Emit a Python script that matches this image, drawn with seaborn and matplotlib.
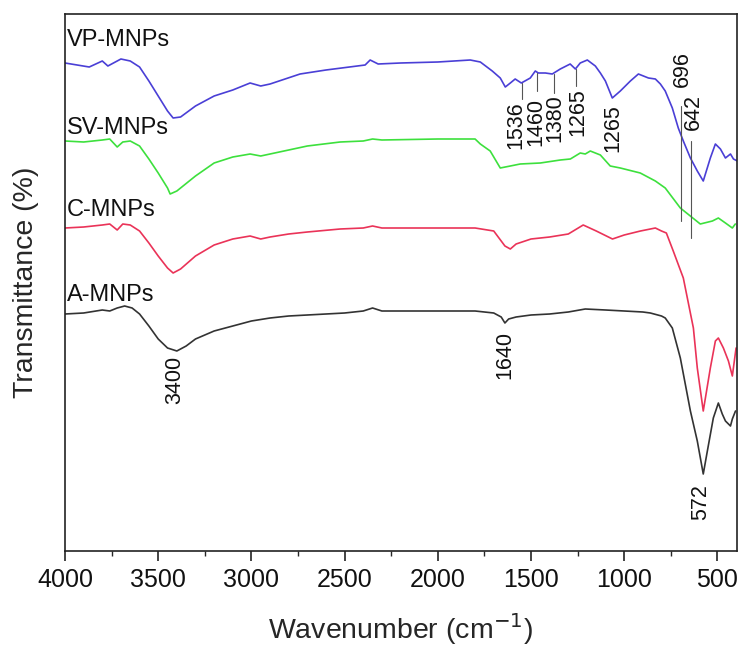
import numpy as np
import pandas as pd
import matplotlib
matplotlib.use("Agg")
import matplotlib.pyplot as plt
import seaborn as sns

# ---------------- data (arbitrary units) ----------------
a_wn = [4000, 3900, 3800, 3760, 3720, 3680, 3640, 3600, 3550, 3500, 3450, 3400, 3350, 3300,
        3200, 3100, 3000, 2900, 2800, 2700, 2600, 2500, 2400, 2350, 2300, 2200, 2000, 1800,
        1700, 1660, 1640, 1620, 1580, 1500, 1400, 1300, 1209, 1100, 1000, 900, 860, 800, 780,
        742, 699, 645, 608, 576, 554, 522, 495, 474, 457, 430, 420, 403]
a_t = [237, 238, 241, 240, 243, 245, 243, 237, 225, 212, 203, 200, 205, 212,
       220, 225, 230, 233, 235, 236, 237, 238, 240, 243, 240, 240, 240, 240,
       238, 234, 228, 232, 234, 236, 237, 239, 242, 241, 240, 239, 238, 235, 233,
       223, 193, 140, 110, 77, 100, 133, 148, 137, 130, 125, 132, 140]

c_wn = [4000, 3900, 3800, 3760, 3720, 3690, 3650, 3600, 3550, 3500, 3450, 3420, 3380, 3300,
        3200, 3100, 3007, 2950, 2900, 2800, 2700, 2524, 2400, 2350, 2300, 2000, 1800, 1700,
        1660, 1640, 1611, 1580, 1500, 1400, 1300, 1220, 1150, 1063, 1000, 913, 833, 800, 774,
        737, 683, 629, 608, 576, 538, 511, 495, 468, 441, 420, 400]
c_t = [323, 324, 326, 327, 321, 327, 326, 320, 308, 295, 283, 278, 282, 295,
       306, 312, 315, 312, 314, 317, 319, 322, 323, 325, 323, 323, 323, 320,
       310, 305, 302, 307, 312, 314, 317, 326, 320, 312, 316, 320, 323, 320, 318,
       300, 273, 223, 183, 140, 183, 210, 213, 203, 190, 175, 203]

sv_wn = [4000, 3900, 3800, 3760, 3720, 3690, 3650, 3600, 3550, 3500, 3450, 3436, 3400, 3300,
         3200, 3100, 3007, 2950, 2900, 2800, 2700, 2524, 2400, 2350, 2300, 2000, 1800, 1772,
         1719, 1665, 1611, 1558, 1450, 1343, 1289, 1236, 1209, 1182, 1128, 1075, 1021, 914,
         833, 780, 699, 592, 527, 495, 457, 420, 404]
sv_t = [410, 409, 411, 412, 404, 409, 410, 405, 392, 378, 363, 357, 360, 375,
        388, 394, 397, 395, 397, 401, 405, 409, 410, 412, 411, 412, 412, 407,
        400, 383, 385, 387, 388, 391, 392, 398, 397, 400, 396, 385, 383, 378,
        370, 363, 343, 327, 330, 333, 328, 323, 327]

vp_wn = [4000, 3870, 3800, 3770, 3700, 3650, 3600, 3550, 3500, 3450, 3420, 3380, 3300, 3200,
         3100, 3007, 2950, 2900, 2739, 2600, 2390, 2363, 2320, 2200, 2000, 1826, 1772, 1708,
         1665, 1638, 1611, 1585, 1552, 1504, 1477, 1461, 1423, 1386, 1343, 1290, 1262, 1236,
         1198, 1155, 1128, 1101, 1064, 1021, 967, 924, 870, 833, 806, 780, 742, 710, 683,
         645, 608, 576, 538, 511, 484, 457, 430, 414, 393]
vp_t = [488, 484, 490, 485, 492, 490, 484, 470, 455, 440, 433, 434, 445, 455,
        461, 468, 465, 467, 477, 481, 486, 491, 487, 488, 489, 491, 489, 480,
        473, 464, 468, 472, 468, 473, 480, 478, 478, 477, 482, 487, 482, 488,
        491, 485, 478, 470, 453, 460, 470, 477, 473, 472, 467, 460, 443, 423, 410,
        393, 380, 370, 393, 407, 402, 393, 397, 392, 390]

sample_names = ["A-MNPs", "C-MNPs", "SV-MNPs", "VP-MNPs"]
sample_colors = ["#333333", "#ea3358", "#3de03d", "#4a3fd6"]
name_positions = [250, 335, 417, 505]          # baseline heights of the sample names

# peak labels: (text, x of text, top of text, line x, line y0, line y1 or None)
peak_labels = [
    ("3400", 3410, 195, None, None, None),
    ("1640", 1638, 220, None, None, None),
    ("572", 590, 67, None, None, None),
    ("1536", 1582, 450, 1547, 468, 452),
    ("1460", 1474, 453, 1466, 478, 460),
    ("1380", 1372, 457, 1375, 477, 458),
    ("1265", 1250, 463, 1257, 482, 465),
    ("1265", 1059, 447, None, None, None),
    ("696", 688, 500, 694, 445, 330),
    ("642", 629, 457, 640, 410, 313),
]

x_ticks = [4000, 3500, 3000, 2500, 2000, 1500, 1000, 500]

# ---------------- figure ----------------
sns.set_style("ticks")
plt.rcParams["font.family"] = ["Liberation Sans", "DejaVu Sans"]

fig = plt.figure(figsize=(7.4, 6.48), dpi=100)
ax = fig.add_axes([65 / 740, 1 - 551 / 648, (737 - 65) / 740, (551 - 14) / 648])

frames = []
for name, wn, t in [("A-MNPs", a_wn, a_t), ("C-MNPs", c_wn, c_t),
                    ("SV-MNPs", sv_wn, sv_t), ("VP-MNPs", vp_wn, vp_t)]:
    frames.append(pd.DataFrame({"wn": wn, "T": t, "sample": name}))
df = pd.concat(frames, ignore_index=True)

sns.lineplot(data=df, x="wn", y="T", hue="sample", hue_order=sample_names,
             palette=sample_colors, sort=False, estimator=None, linewidth=1.2,
             legend=False, ax=ax)

for name, yb in zip(sample_names, name_positions):
    ax.text(3990, yb, name, fontsize=17, ha="left", va="baseline", color="#111111")

for txt, tx, ty, lx, ly0, ly1 in peak_labels:
    ax.text(tx, ty, txt, rotation=90, ha="center", va="top", fontsize=15.5,
            color="#111111")
    if lx is not None:
        ax.plot([lx, lx], [ly0, ly1], color="#555555", linewidth=0.8)

ax.set_xlim(4000, 395)
ax.set_ylim(0, 537)
ax.set_xticks(x_ticks)
ax.set_xticklabels([str(v) for v in x_ticks])
ax.set_xticks(np.arange(3750, 395, -500), minor=True)
ax.set_yticks([])
ax.tick_params(axis="x", which="major", direction="out", length=7, width=1.1,
               labelsize=18, pad=5, colors="#111111")
ax.tick_params(axis="x", which="minor", direction="out", length=3.8, width=1.0)
for sp in ax.spines.values():
    sp.set_visible(True)
    sp.set_linewidth(1.2)
    sp.set_color("#222222")

ax.set_xlabel("Wavenumber (cm$^{-1}$)", fontsize=20.5, labelpad=14)
ax.set_ylabel("Transmittance (%)", fontsize=20.5, labelpad=19)

fig.savefig("out.png", dpi=100)
